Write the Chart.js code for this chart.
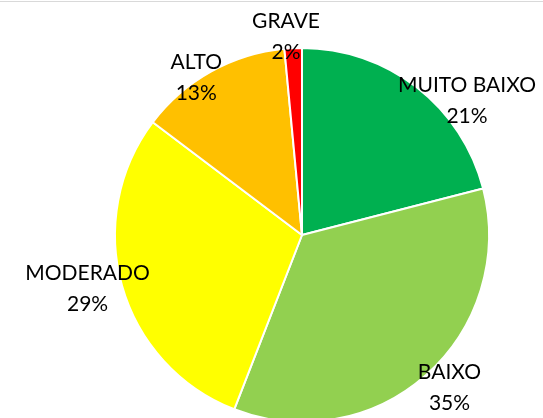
<!DOCTYPE html>
<html>
<head>
<meta charset="utf-8">
<script src="https://cdn.jsdelivr.net/npm/chart.js@4/dist/chart.umd.min.js"></script>
<style>
  html, body { margin: 0; padding: 0; background: #fff; }
  #wrap { position: relative; width: 543px; height: 418px; overflow: hidden; }
  #topline { position: absolute; left: 0; top: 1px; width: 543px; height: 0; border-top: 1px solid #d9d9d9; }
  canvas { position: absolute; left: 0; top: 0; }
</style>
</head>
<body>
<div id="wrap">
  <canvas id="c" width="543" height="440"></canvas>
  <div id="topline"></div>
</div>
<script>
const categories = ["MUITO BAIXO", "BAIXO", "MODERADO", "ALTO", "GRAVE"];
const percentValues = [21.0, 34.9, 29.4, 13.2, 1.5];
const percentLabels = ["21%", "35%", "29%", "13%", "2%"];
const sliceColors = ["#00B050", "#92D050", "#FFFF00", "#FFC000", "#FF0000"];

// label placement style: angle offset from slice mid (degrees) and radius factor
const labelAngleOffset = [13.1, -2.4, 1.8, -4.7, -1.9];
const labelRadiusFactor = [1.137, 1.136, 1.182, 1.015, 1.065];

const labelPlugin = {
  id: 'sliceLabels',
  afterDatasetsDraw(chart) {
    const ctx = chart.ctx;
    const meta = chart.getDatasetMeta(0);
    ctx.save();
    ctx.font = '21px Lato, "Noto Sans", sans-serif';
    ctx.fillStyle = '#000';
    ctx.textAlign = 'center';
    ctx.textBaseline = 'middle';
    meta.data.forEach((arc, i) => {
      const p = arc.getProps(['x', 'y', 'startAngle', 'endAngle', 'outerRadius'], true);
      const mid = (p.startAngle + p.endAngle) / 2 + labelAngleOffset[i] * Math.PI / 180;
      const r = p.outerRadius * labelRadiusFactor[i];
      const lx = p.x + Math.cos(mid) * r;
      const ly = p.y + Math.sin(mid) * r;
      ctx.fillText(categories[i], lx, ly - 15.5);
      ctx.fillText(percentLabels[i], lx, ly + 15.5);
    });
    ctx.restore();
  }
};

new Chart(document.getElementById('c'), {
  type: 'pie',
  data: {
    labels: categories,
    datasets: [{
      data: percentValues,
      backgroundColor: sliceColors,
      borderColor: '#ffffff',
      borderWidth: 2
    }]
  },
  options: {
    responsive: false,
    animation: false,
    radius: 187,
    layout: { padding: { left: 115, top: 48, right: 54, bottom: 18 } },
    plugins: { legend: { display: false }, tooltip: { enabled: false } }
  },
  plugins: [labelPlugin]
});
</script>
</body>
</html>
